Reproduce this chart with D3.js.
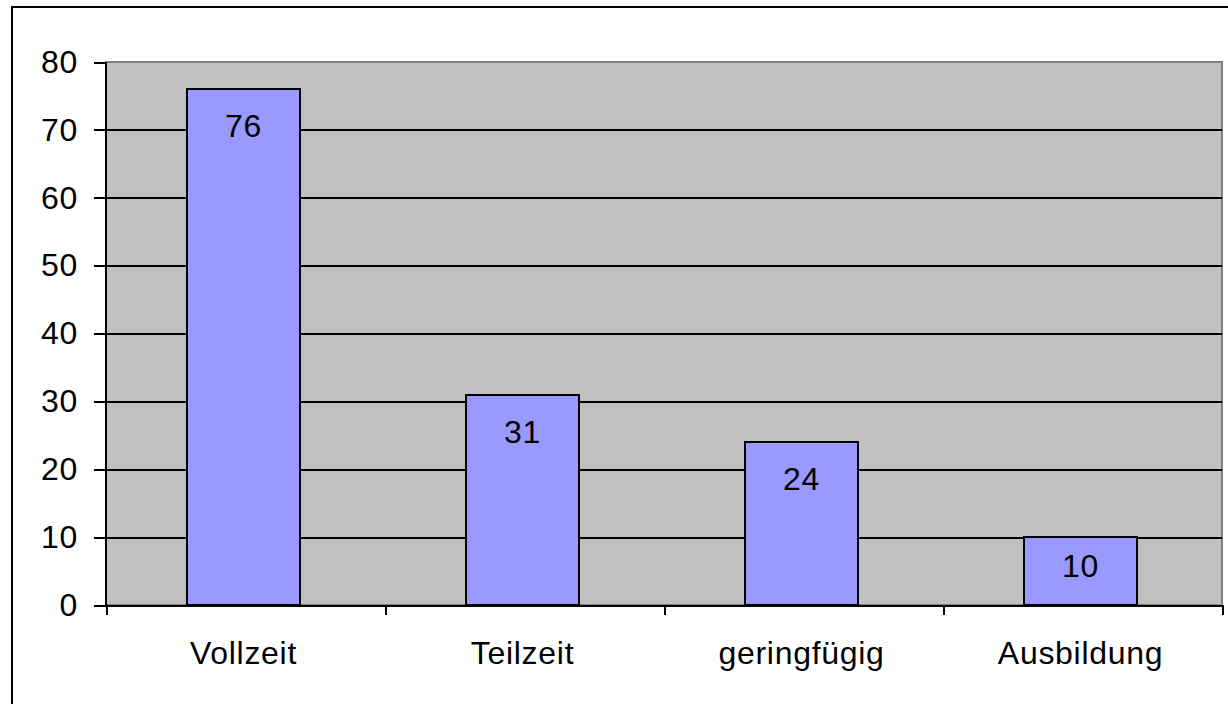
<!DOCTYPE html>
<html>
<meta charset="utf-8">
<style>
body { margin: 0; background: #fff; }
svg { display: block; font-family: "Liberation Sans", Arial, sans-serif; }
.grid line { stroke: #000; stroke-width: 2; shape-rendering: crispEdges; }
.grid path { display: none; }
.axis path, .axis line { stroke: #000; stroke-width: 2; shape-rendering: crispEdges; }
.axis text { fill: #000; font-size: 32px; letter-spacing: 0.7px; }
.bar { fill: #9999ff; stroke: #000; stroke-width: 2; shape-rendering: crispEdges; }
.val { font-size: 32px; fill: #000; text-anchor: middle; letter-spacing: 0.7px; }
</style>
<body>
<script src="https://d3js.org/d3.v7.min.js"></script>
<script>
var categories = ["Vollzeit", "Teilzeit", "geringfügig", "Ausbildung"];
var values = [76, 31, 24, 10];
var yTicks = [0, 10, 20, 30, 40, 50, 60, 70, 80];

var W = 1228, H = 704;
var margin = {top: 62, right: 6, bottom: 99, left: 106},
	width = W - margin.left - margin.right,
	height = H - margin.top - margin.bottom;

var svg = d3.select("body")
	.append("svg")
	.attr("width", W)
	.attr("height", H);

// outer chart border
svg.append("rect")
	.attr("x", 12).attr("y", 7)
	.attr("width", W + 10).attr("height", H + 10)
	.attr("fill", "#fff")
	.attr("stroke", "#000")
	.attr("stroke-width", 2);

var g = svg.append("g")
	.attr("transform", "translate(" + margin.left + "," + margin.top + ")");

var x = d3.scaleBand()
	.domain(categories)
	.range([0, width])
	.paddingInner(0.595)
	.paddingOuter(0.2975)
	.align(0.488);

var xEdge = d3.scaleLinear().domain([0, categories.length]).range([0, width]);

var y = d3.scaleLinear().domain([0, 80]).range([height, 0]);

// plot background with grey frame
g.append("rect")
	.attr("width", width)
	.attr("height", height)
	.attr("fill", "#c0c0c0")
	.attr("stroke", "#808080")
	.attr("stroke-width", 2);

// gridlines
g.append("g")
	.attr("class", "grid")
	.call(d3.axisLeft(y).tickValues(yTicks.slice(1, -1)).tickSize(-width).tickFormat(""));

// bars
g.selectAll(".bar")
	.data(values)
	.enter().append("rect")
	.attr("class", "bar")
	.attr("x", function(d, i) { return x(categories[i]); })
	.attr("y", function(d) { return y(d); })
	.attr("width", x.bandwidth())
	.attr("height", function(d) { return height - y(d); });

// value labels, kept inside the bar
g.selectAll(".val")
	.data(values)
	.enter().append("text")
	.attr("class", "val")
	.attr("x", function(d, i) { return x(categories[i]) + x.bandwidth() / 2; })
	.attr("y", function(d) { return Math.min(y(d) + 48, height - 28); })
	.text(function(d) { return d; });

// y axis
var yAxis = g.append("g")
	.attr("class", "axis")
	.call(d3.axisLeft(y).tickValues(yTicks).tickSize(12).tickPadding(16).tickSizeOuter(0));
yAxis.select(".domain").attr("d", "M0," + height + "V0");

// x axis ticks at category edges
g.append("g")
	.attr("class", "axis")
	.attr("transform", "translate(0," + height + ")")
	.call(d3.axisBottom(xEdge).ticks(categories.length).tickSize(10).tickFormat("").tickSizeOuter(0));

// x axis labels
g.append("g")
	.attr("class", "axis")
	.attr("transform", "translate(0," + height + ")")
	.call(d3.axisBottom(x).tickSize(0).tickPadding(36))
	.select(".domain").remove();
</script>
</body>
</html>
